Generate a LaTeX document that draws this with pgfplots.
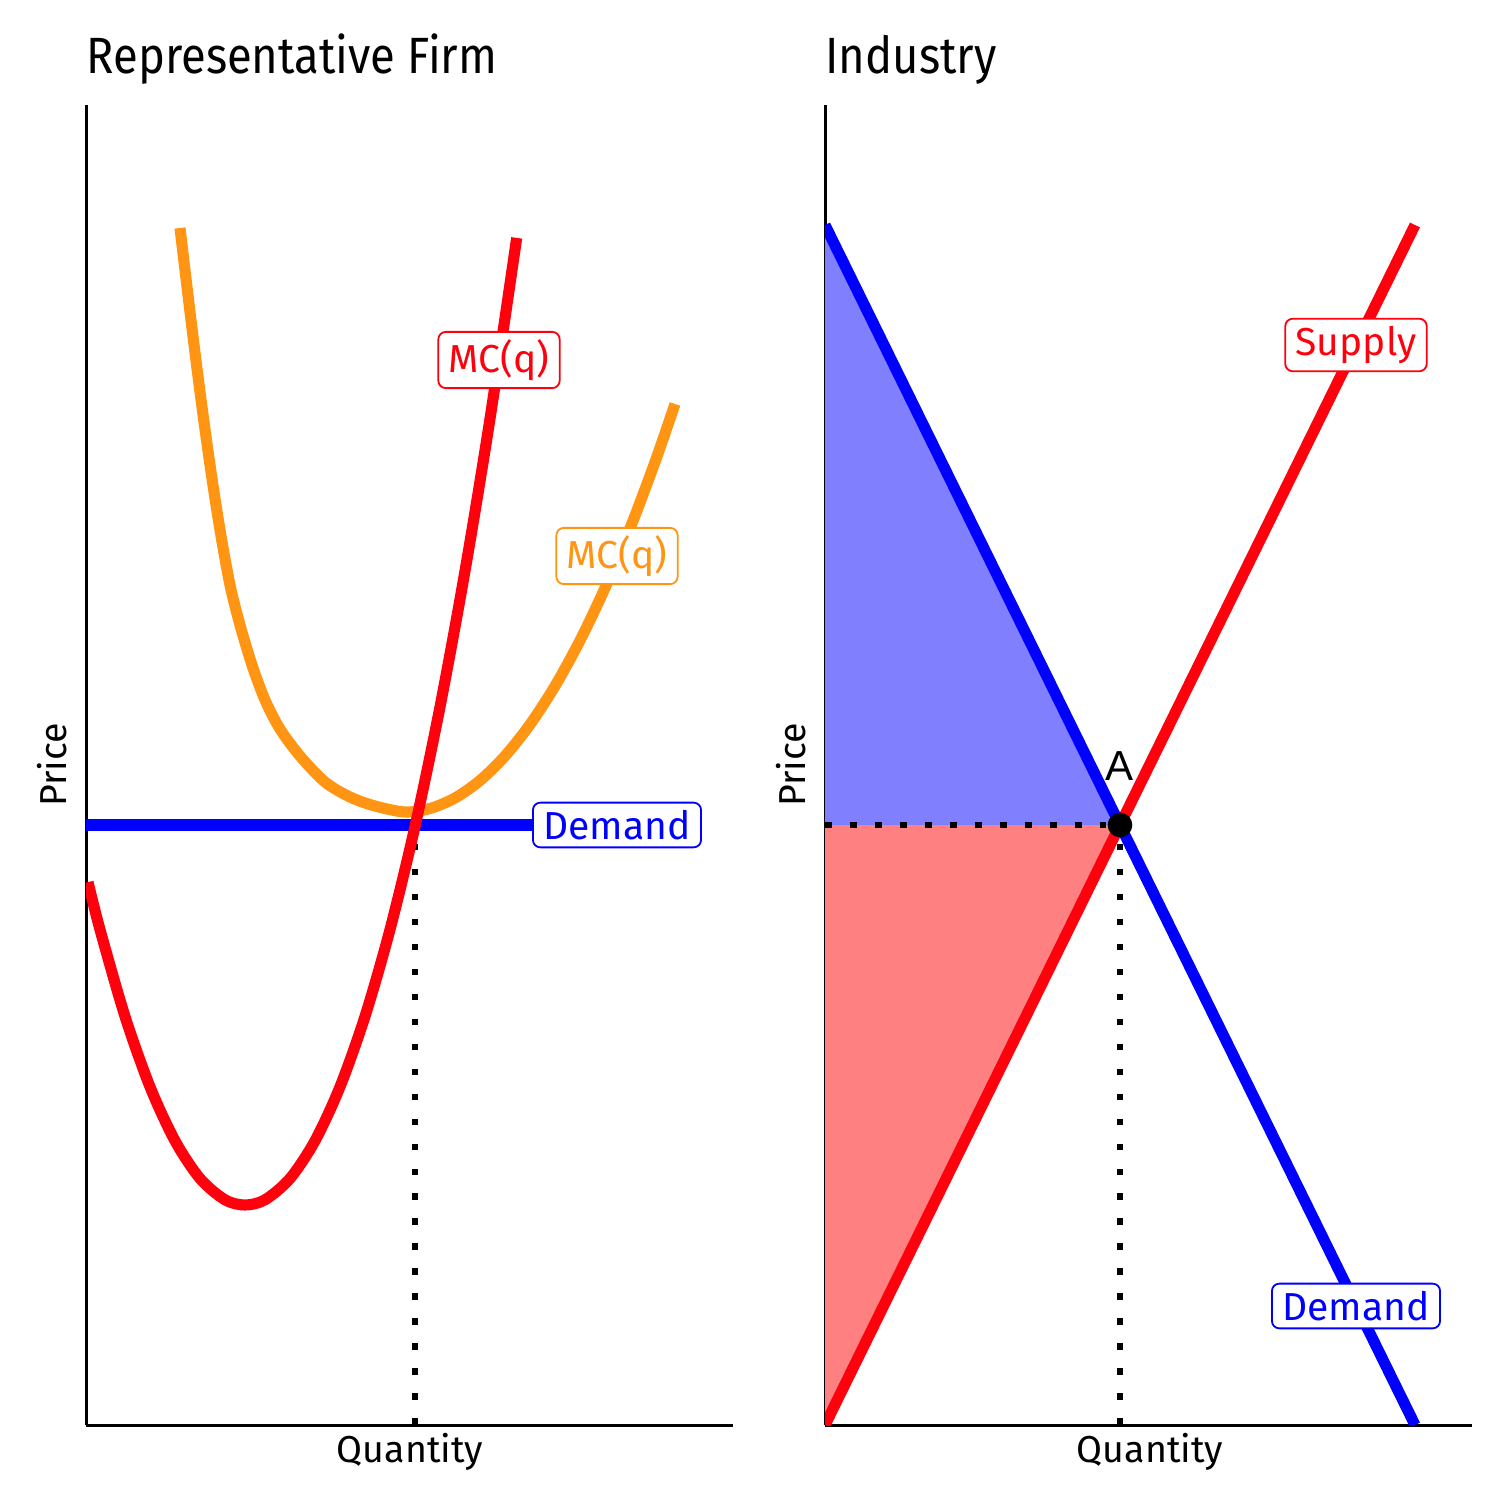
\documentclass[border=0pt]{standalone}
\usepackage{pgfplots}
\pgfplotsset{compat=1.18}
\usepackage{fontspec}
\setmainfont{Fira Sans}
\newfontfamily\titlefont[FakeStretch=0.89]{Fira Sans}
\newfontfamily\afont{Liberation Sans}

\definecolor{mcred}{RGB}{255,0,12}
\definecolor{acorange}{RGB}{255,149,18}
\definecolor{dblue}{RGB}{0,0,255}
\definecolor{csblue}{RGB}{128,128,255}
\definecolor{psred}{RGB}{255,128,128}

% axis units are pixels of the 1512 px picture (1 px = 1/3 pt)
\pgfplotsset{
  econ/.style={
    scale only axis, width=215.667pt, height=440pt,
    xmin=0, xmax=647, ymin=0, ymax=1320,
    axis lines=left, axis line style={-, line width=1pt},
    ticks=none, clip mode=individual,
  },
  curve/.style={line width=3.7pt, no marks, line cap=butt},
  guide/.style={black, no marks, line width=2.2pt, dash pattern=on 2.2pt off 6.13pt},
}
\tikzset{
  tag/.style={draw=#1, text=#1, fill=white, rounded corners=2.5pt, line width=0.6pt,
    inner xsep=3.5pt, inner ysep=2.5pt, font=\fontsize{13}{13}\selectfont},
  lab/.style={font=\fontsize{12.5}{12.5}\selectfont, inner sep=0pt},
  ttl/.style={font=\titlefont\fontsize{17}{17}\selectfont, inner sep=0pt, anchor=base west},
}

\begin{document}
\begin{tikzpicture}
\path[use as bounding box] (-28.667pt,-29pt) rectangle (475.333pt,475pt);

% ---------------- Representative firm ----------------
\begin{axis}[econ, at={(0pt,0pt)}]
\addplot[curve, dblue] coordinates {(0,600) (449,600)};
\addplot[guide] coordinates {(329,0) (329,600)};

% average cost
\addplot[curve, acorange, smooth] coordinates {
  (94,1197) (104,1113) (114,1033) (124,960) (134,895) (144,840)
  (154,800) (166,760) (179,725) (194,696) (214,669) (239,643)
  (264,628) (289,619) (319,613) (344,616.5) (369,627) (394,644.5)
  (419,669) (444,700.5) (469,739) (494,784.5) (519,837) (544,896.5)
  (569,963) (589,1021)
};

% marginal cost
\addplot[curve, mcred, smooth] coordinates {
  (2,542.9) (14,495.4) (39,408.6) (64,338.2) (89,284.2) (114,246.5)
  (139,225.2) (159,220) (179,225.2) (204,246.5) (229,284.2) (254,338.2)
  (279,408.6) (304,495.4) (329,598.6) (354,718.1) (379,854) (404,1006.3)
  (430.7,1187.1)
};

\node[tag=mcred] at (axis cs:413,1065) {MC(q)};
\node[tag=acorange] at (axis cs:531,869) {MC(q)};
\node[tag=dblue] at (axis cs:531,600) {Demand};

\node[ttl] at (axis cs:0,1352) {Representative Firm};
\node[lab, anchor=base] at (axis cs:324,-37) {Quantity};
\node[lab, anchor=base, rotate=90] at (axis cs:-20,660) {Price};
\end{axis}

% ---------------- Industry ----------------
\begin{axis}[econ, at={(246.333pt,0pt)}]
\addplot[fill=csblue, draw=none] coordinates {(0,1200) (295,600) (0,600)};
\addplot[fill=psred, draw=none] coordinates {(0,600) (295,600) (0,0)};
\addplot[guide] coordinates {(0,600) (295,600)};
\addplot[guide] coordinates {(295,0) (295,600)};

\addplot[curve, mcred] coordinates {(0,0) (590,1200)};
\addplot[curve, dblue] coordinates {(0,1200) (590,0)};
\addplot[only marks, mark=*, mark size=3.9pt, black] coordinates {(295,600)};

\node[anchor=base, inner sep=0pt, font=\afont\fontsize{14}{14}\selectfont] at (axis cs:295,645) {A};
\node[tag=mcred] at (axis cs:531,1080) {Supply};
\node[tag=dblue] at (axis cs:531,119) {Demand};

\node[ttl] at (axis cs:0,1352) {Industry};
\node[lab, anchor=base] at (axis cs:325,-37) {Quantity};
\node[lab, anchor=base, rotate=90] at (axis cs:-20,660) {Price};
\end{axis}
\end{tikzpicture}
\end{document}
